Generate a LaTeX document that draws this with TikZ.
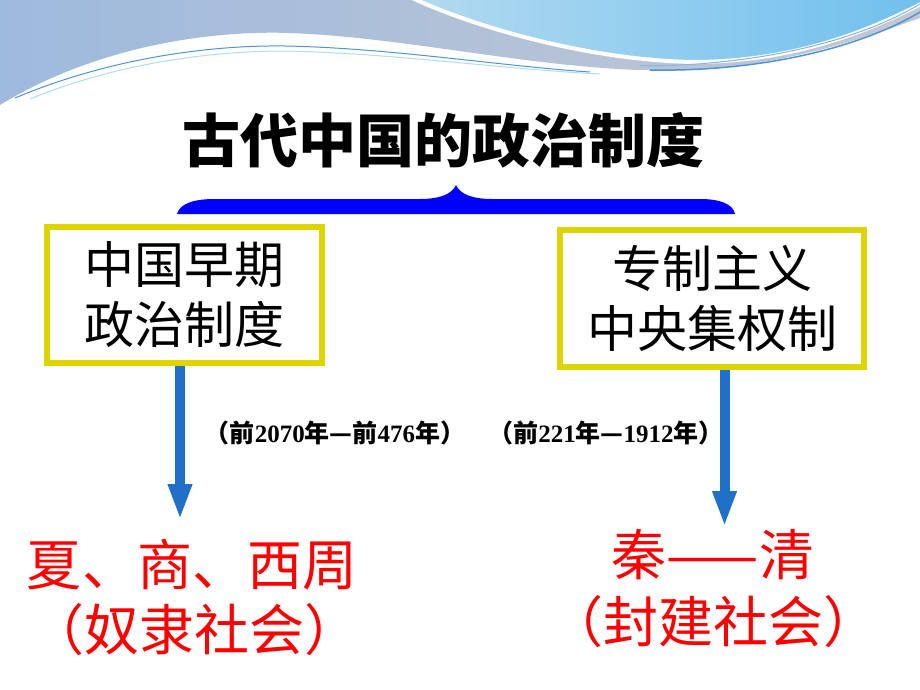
\documentclass[tikz,border=0pt]{standalone}
\usepackage{fontspec}
\setmainfont{Liberation Serif}
\newfontfamily\cjk{Noto Sans CJK SC}
\usetikzlibrary{arrows.meta}
\definecolor{boxyellow}{RGB}{222,212,0}
\definecolor{arrowblue}{RGB}{30,112,200}
\definecolor{wavegray}{RGB}{196,200,210}
\definecolor{waveblue}{RGB}{158,186,222}
\definecolor{skyblue}{RGB}{178,218,240}
\definecolor{skydeep}{RGB}{112,192,238}
\definecolor{streakblue}{RGB}{78,148,214}
\newcommand\zh[1]{{\cjk\bfseries #1}}

\tikzset{
  sysbox/.style={draw=boxyellow,line width=6pt,fill=white,align=center,
    inner sep=0pt,font=\cjk\fontsize{50}{60}\selectfont},
  era/.style={text=red,inner sep=0pt,font=\cjk\fontsize{55}{60}\selectfont},
  datelabel/.style={inner sep=0pt,font=\bfseries\fontsize{25}{27}\selectfont},
  fatarrow/.style={arrowblue,line width=10pt,-{Triangle[width=22pt,length=36pt]}},
}

\begin{document}
\begin{tikzpicture}[x=1pt,y=-1pt]
   \useasboundingbox (0,0) rectangle (920,690);
   % Waves at the top
   \shade[left color=waveblue,right color=wavegray]
      (0,0) -- (0,105) .. controls (90,50) and (200,30) .. (290,33)
      .. controls (420,38) and (560,75) .. (690,70)
      .. controls (780,66) and (860,40) .. (920,18) -- (920,0) -- cycle;
   \shadedraw[left color=skyblue,right color=skydeep,draw=white,line width=4pt]
      (410,-3) .. controls (480,30) and (600,62) .. (700,62)
      .. controls (800,60) and (870,30) .. (923,3) -- (923,-3) -- cycle;
   \draw[streakblue,line width=1pt] (15,98) .. controls (110,58) and (210,45) .. (285,46)
      .. controls (390,48) and (500,66) .. (590,72);
   \draw[skyblue,line width=1pt] (30,99) .. controls (120,62) and (215,51) .. (285,51)
      .. controls (390,53) and (500,69) .. (600,74);
   \draw[streakblue,line width=1.5pt] (650,70) .. controls (760,72) and (860,48) .. (920,12);
   \draw[streakblue!70,line width=1pt] (640,66) .. controls (760,66) and (860,40) .. (920,4);
   % Title and brace
   \node[inner sep=0pt,font=\cjk\bfseries\fontsize{58}{60}\selectfont] (title) at (443,140) {古代中国的政治制度};
   \fill[blue] (177,214) .. controls (180,203) and (195,199) .. (215,199) -- (420,199)
      .. controls (440,199) and (452,194) .. (456,185)
      .. controls (460,194) and (472,199) .. (492,199) -- (700,199)
      .. controls (720,199) and (733,204) .. (735,214) -- cycle;
   % Boxes
   \node[sysbox,minimum width=275pt,minimum height=136pt] (early) at (184.5,295) {中国早期\\政治制度};
   \node[sysbox,minimum width=304pt,minimum height=137pt] (central) at (712,298.5) {专制主义\\中央集权制};
   % Periods
   \node[datelabel] (earlydate) at (335,433) {\zh{（前}2070\zh{年—前}476\zh{年）}};
   \node[datelabel] (centraldate) at (606,433) {\zh{（前}221\zh{年—}1912\zh{年）}};
   % Dynasties
   \node[era] (earlyera) at (192,565) {夏、商、西周};
   \node[era] (earlysoc) at (194,630) {（奴隶社会）};
   \node[era] (centralera) at (713,555) {秦——清};
   \node[era] (centralsoc) at (713,622) {（封建社会）};
   % Arrows
   \coordinate (ltip) at (180,520);
   \coordinate (rtip) at (724.5,527);
   \draw[fatarrow] (early.south -| ltip) -- (ltip);
   \draw[fatarrow] (central.south -| rtip) -- (rtip);
\end{tikzpicture}
\end{document}
